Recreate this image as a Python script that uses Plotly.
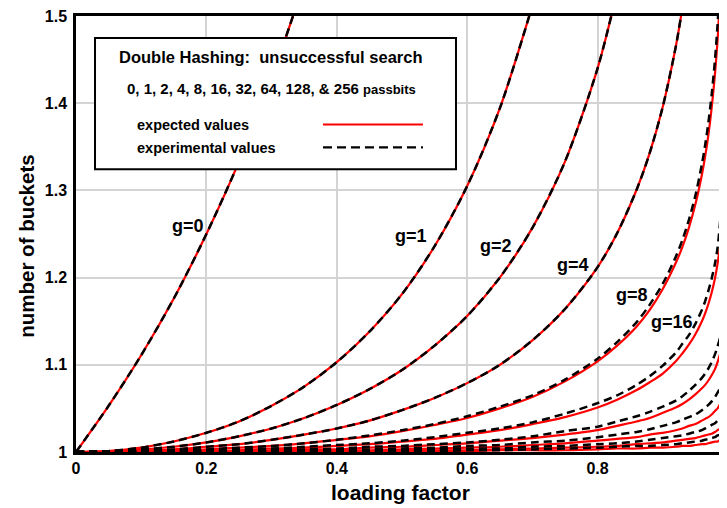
import plotly.graph_objects as go

# ---------------- data ----------------
LOAD_FACTOR = [0, 0.05, 0.1, 0.15, 0.2, 0.25, 0.3, 0.35, 0.4, 0.45, 0.5, 0.55, 0.6, 0.65,
               0.7, 0.75, 0.8, 0.83, 0.86, 0.88, 0.9, 0.92, 0.93, 0.94, 0.95, 0.96, 0.965,
               0.97, 0.975, 0.98, 0.984, 0.988, 0.991, 0.994, 0.996, 0.998, 0.999]

PASSBITS = [0, 1, 2, 4, 8, 16, 32, 64, 128, 256]

EXPECTED_G0 = [1.000, 1.053, 1.111, 1.176, 1.250, 1.333, 1.429, 1.538]
EXPECTED_G1 = [1.000, 1.001, 1.005, 1.012, 1.022, 1.035, 1.053, 1.075, 1.103, 1.138, 1.181,
               1.236, 1.305, 1.394, 1.512]
EXPECTED_G2 = [1.000, 1.001, 1.003, 1.006, 1.011, 1.018, 1.027, 1.039, 1.054, 1.072, 1.094,
               1.122, 1.156, 1.200, 1.257, 1.333, 1.440, 1.528]
EXPECTED_G4 = [1.000, 1.000, 1.001, 1.003, 1.006, 1.009, 1.014, 1.020, 1.027, 1.036, 1.048,
               1.062, 1.079, 1.100, 1.128, 1.164, 1.212, 1.251, 1.301, 1.343, 1.396, 1.465,
               1.509]
EXPECTED_G8 = [1.000, 1.000, 1.001, 1.002, 1.003, 1.005, 1.007, 1.010, 1.014, 1.018, 1.024,
               1.031, 1.039, 1.050, 1.063, 1.081, 1.104, 1.122, 1.144, 1.163, 1.187, 1.217,
               1.235, 1.257, 1.284, 1.318, 1.339, 1.364, 1.395, 1.433, 1.472, 1.525]
EXPECTED_G16 = [1.000, 1.000, 1.000, 1.001, 1.001, 1.002, 1.004, 1.005, 1.007, 1.009, 1.012,
                1.015, 1.020, 1.025, 1.032, 1.040, 1.051, 1.060, 1.071, 1.080, 1.090, 1.104,
                1.113, 1.123, 1.135, 1.150, 1.159, 1.170, 1.183, 1.199, 1.216, 1.237, 1.259,
                1.291, 1.324, 1.383, 1.444]
EXPECTED_G32 = [1.000, 1.000, 1.000, 1.000, 1.001, 1.001, 1.002, 1.003, 1.003, 1.005, 1.006,
                1.008, 1.010, 1.013, 1.016, 1.020, 1.025, 1.030, 1.035, 1.039, 1.045, 1.051,
                1.055, 1.060, 1.066, 1.073, 1.077, 1.082, 1.088, 1.095, 1.103, 1.113, 1.123,
                1.137, 1.151, 1.176, 1.202]
EXPECTED_G64 = [1.000, 1.000, 1.000, 1.000, 1.000, 1.001, 1.001, 1.001, 1.002, 1.002, 1.003,
                1.004, 1.005, 1.006, 1.008, 1.010, 1.013, 1.015, 1.017, 1.020, 1.022, 1.025,
                1.027, 1.030, 1.032, 1.036, 1.038, 1.040, 1.043, 1.047, 1.050, 1.055, 1.060,
                1.066, 1.073, 1.085, 1.097]
EXPECTED_G128 = [1.000, 1.000, 1.000, 1.000, 1.000, 1.000, 1.000, 1.001, 1.001, 1.001, 1.002,
                 1.002, 1.002, 1.003, 1.004, 1.005, 1.006, 1.007, 1.009, 1.010, 1.011, 1.013,
                 1.014, 1.015, 1.016, 1.018, 1.019, 1.020, 1.021, 1.023, 1.025, 1.027, 1.029,
                 1.033, 1.036, 1.042, 1.047]
EXPECTED_G256 = [1.000, 1.000, 1.000, 1.000, 1.000, 1.000, 1.000, 1.000, 1.000, 1.001, 1.001,
                 1.001, 1.001, 1.002, 1.002, 1.002, 1.003, 1.004, 1.004, 1.005, 1.005, 1.006,
                 1.007, 1.007, 1.008, 1.009, 1.009, 1.010, 1.011, 1.012, 1.012, 1.014, 1.015,
                 1.016, 1.018, 1.021, 1.023]

OBSERVED_G0 = [1.000, 1.053, 1.111, 1.176, 1.250, 1.333, 1.429, 1.538]
OBSERVED_G1 = [1.000, 1.001, 1.005, 1.012, 1.022, 1.035, 1.053, 1.075, 1.103, 1.138, 1.181,
               1.236, 1.305, 1.394, 1.512]
OBSERVED_G2 = [1.000, 1.001, 1.003, 1.006, 1.011, 1.018, 1.027, 1.039, 1.054, 1.072, 1.094,
               1.122, 1.156, 1.200, 1.257, 1.333, 1.440, 1.528]
OBSERVED_G4 = [1.000, 1.000, 1.001, 1.003, 1.006, 1.009, 1.014, 1.020, 1.027, 1.036, 1.048,
               1.062, 1.079, 1.100, 1.128, 1.164, 1.212, 1.251, 1.301, 1.343, 1.396, 1.465,
               1.509]
OBSERVED_G8 = [1.000, 1.000, 1.001, 1.002, 1.003, 1.005, 1.007, 1.010, 1.014, 1.019, 1.025,
               1.032, 1.041, 1.052, 1.065, 1.083, 1.107, 1.126, 1.149, 1.169, 1.193, 1.224,
               1.243, 1.266, 1.294, 1.330, 1.352, 1.378, 1.410, 1.449, 1.490, 1.545]
OBSERVED_G16 = [1.000, 1.000, 1.000, 1.001, 1.002, 1.003, 1.004, 1.006, 1.008, 1.010, 1.013,
                1.017, 1.022, 1.027, 1.034, 1.044, 1.056, 1.065, 1.077, 1.087, 1.099, 1.114,
                1.124, 1.134, 1.147, 1.163, 1.173, 1.185, 1.199, 1.216, 1.234, 1.265, 1.320,
                1.450, 1.600]
OBSERVED_G32 = [1.000, 1.000, 1.000, 1.000, 1.001, 1.001, 1.002, 1.003, 1.004, 1.006, 1.007,
                1.009, 1.011, 1.014, 1.018, 1.024, 1.029, 1.035, 1.041, 1.046, 1.052, 1.059,
                1.064, 1.070, 1.077, 1.085, 1.090, 1.096, 1.103, 1.112, 1.121, 1.132, 1.160,
                1.210, 1.280, 1.420, 1.550]
OBSERVED_G64 = [1.000, 1.000, 1.000, 1.000, 1.000, 1.001, 1.001, 1.002, 1.002, 1.003, 1.004,
                1.005, 1.007, 1.008, 1.011, 1.013, 1.017, 1.020, 1.023, 1.026, 1.030, 1.034,
                1.037, 1.040, 1.043, 1.048, 1.051, 1.054, 1.058, 1.063, 1.068, 1.074, 1.090,
                1.120, 1.160, 1.260, 1.360]
OBSERVED_G128 = [1.000, 1.000, 1.000, 1.000, 1.000, 1.000, 1.001, 1.001, 1.001, 1.002, 1.002,
                 1.003, 1.004, 1.004, 1.006, 1.007, 1.009, 1.010, 1.012, 1.014, 1.016, 1.018,
                 1.019, 1.021, 1.023, 1.025, 1.027, 1.029, 1.031, 1.033, 1.036, 1.039, 1.050,
                 1.070, 1.100, 1.160, 1.220]
OBSERVED_G256 = [1.000, 1.000, 1.000, 1.000, 1.000, 1.000, 1.000, 1.000, 1.001, 1.001, 1.001,
                 1.001, 1.002, 1.002, 1.003, 1.004, 1.005, 1.006, 1.007, 1.007, 1.008, 1.009,
                 1.010, 1.011, 1.012, 1.013, 1.014, 1.015, 1.016, 1.017, 1.019, 1.020, 1.030,
                 1.045, 1.060, 1.090, 1.130]

CURVE_LABELS = ["g=0", "g=1", "g=2", "g=4", "g=8", "g=16"]
CURVE_LABEL_X = [0.172, 0.514, 0.644, 0.762, 0.853, 0.914]
CURVE_LABEL_Y = [1.259, 1.248, 1.236, 1.214, 1.180, 1.149]

X_TICKS = [0, 0.2, 0.4, 0.6, 0.8]
X_TICK_TEXT = ["0", "0.2", "0.4", "0.6", "0.8"]
Y_TICKS = [1, 1.1, 1.2, 1.3, 1.4, 1.5]
Y_TICK_TEXT = ["1", "1.1", "1.2", "1.3", "1.4", "1.5"]

EXPECTED = [EXPECTED_G0, EXPECTED_G1, EXPECTED_G2, EXPECTED_G4, EXPECTED_G8, EXPECTED_G16,
            EXPECTED_G32, EXPECTED_G64, EXPECTED_G128, EXPECTED_G256]
OBSERVED = [OBSERVED_G0, OBSERVED_G1, OBSERVED_G2, OBSERVED_G4, OBSERVED_G8, OBSERVED_G16,
            OBSERVED_G32, OBSERVED_G64, OBSERVED_G128, OBSERVED_G256]

# ---------------- styling ----------------
FONT = "Liberation Sans, Arial, sans-serif"
RED = "#ff0000"
BLACK = "#000000"
GRID = "#d4d4d4"


def font(size, color=BLACK):
    return dict(family=FONT, size=size, color=color, weight="bold")


fig = go.Figure()

for g, ys in zip(PASSBITS, EXPECTED):
    fig.add_trace(go.Scatter(x=LOAD_FACTOR[:len(ys)], y=ys, mode="lines",
                             name=f"expected g={g}", showlegend=False,
                             line=dict(color=RED, width=2.2, shape="spline", smoothing=0.8)))
for g, ys in zip(PASSBITS, OBSERVED):
    fig.add_trace(go.Scatter(x=LOAD_FACTOR[:len(ys)], y=ys, mode="lines",
                             name=f"experimental g={g}", showlegend=False,
                             line=dict(color=BLACK, width=2.5, dash="8px,5px",
                                       shape="spline", smoothing=0.8)))

annotations = []
for txt, lx, ly in zip(CURVE_LABELS, CURVE_LABEL_X, CURVE_LABEL_Y):
    annotations.append(dict(x=lx, y=ly, xref="x", yref="y", text=txt, showarrow=False,
                            font=font(18), xanchor="center", yanchor="middle"))

# axis titles
annotations.append(dict(x=-0.0753, y=0.473, xref="paper", yref="paper",
                        text="number of buckets", textangle=-90, showarrow=False,
                        font=font(20.5), xanchor="center", yanchor="middle"))
annotations.append(dict(x=0.4977, y=-0.094, xref="paper", yref="paper",
                        text="loading factor", showarrow=False,
                        font=font(21), xanchor="center", yanchor="middle"))

# legend box texts
annotations.append(dict(x=0.2995, y=0.9064, xref="paper", yref="paper",
                        text="Double Hashing:\u00a0 unsuccessful search", showarrow=False,
                        font=font(16.5), xanchor="center", yanchor="middle"))
annotations.append(dict(x=0.300, y=0.8333, xref="paper", yref="paper",
                        text="0, 1, 2, 4, 8, 16, 32, 64, 128, &amp; 256 "
                             "<span style='font-size:13px'>passbits</span>",
                        showarrow=False, font=font(15), xanchor="center", yanchor="middle"))
annotations.append(dict(x=0.0906, y=0.7511, xref="paper", yref="paper",
                        text="expected values", showarrow=False,
                        font=font(14.5), xanchor="left", yanchor="middle"))
annotations.append(dict(x=0.0906, y=0.6963, xref="paper", yref="paper",
                        text="experimental values", showarrow=False,
                        font=font(14.5), xanchor="left", yanchor="middle"))

shapes = [
    dict(type="rect", xref="paper", yref="paper", x0=0.0292, x1=0.5837, y0=0.6484, y1=0.9498,
         fillcolor="white", line=dict(color=BLACK, width=2), layer="above"),
    dict(type="line", xref="paper", yref="paper", x0=0.3794, x1=0.5330, y0=0.7511, y1=0.7511,
         line=dict(color=RED, width=2.2), layer="above"),
    dict(type="line", xref="paper", yref="paper", x0=0.3794, x1=0.5330, y0=0.6986, y1=0.6986,
         line=dict(color=BLACK, width=2.2, dash="9px,5px"), layer="above"),
]

# The page body has an 8 px margin, so the figure is sized/margined to put the
# plot area at the same page position as the reference (x 76..727, y 14..452).
fig.update_layout(
    width=719, height=500,
    margin=dict(l=68, r=0, t=6, b=56),
    paper_bgcolor="white", plot_bgcolor="white",
    showlegend=False,
    annotations=annotations,
    shapes=shapes,
)
fig.update_xaxes(range=[0, 0.9985], tickvals=X_TICKS, ticktext=X_TICK_TEXT,
                 showgrid=True, gridcolor=GRID, gridwidth=1.5, zeroline=False,
                 showline=True, linecolor=BLACK, linewidth=2.5, mirror=True,
                 ticks="", ticklen=0, tickfont=font(16), ticklabelstandoff=0,
                 ticklabeloverflow="allow")
fig.update_yaxes(range=[1, 1.5], tickvals=Y_TICKS, ticktext=Y_TICK_TEXT,
                 showgrid=True, gridcolor=GRID, gridwidth=1.5, zeroline=False,
                 showline=True, linecolor=BLACK, linewidth=2.5, mirror=False,
                 ticks="", ticklen=0, tickfont=font(16), ticklabelstandoff=3,
                 ticklabeloverflow="allow")

fig.write_html("out.html")
